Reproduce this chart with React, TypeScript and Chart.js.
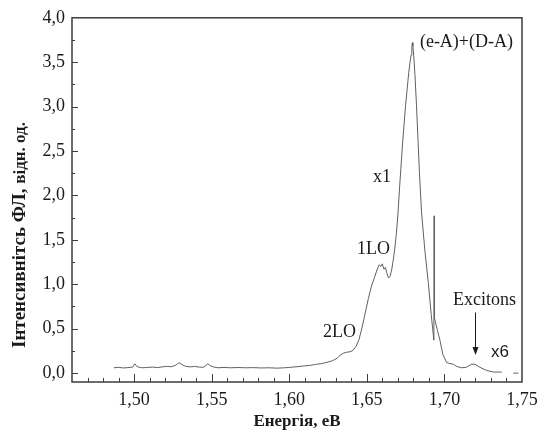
import React, { useEffect, useRef } from "react";
import { Chart, registerables } from "chart.js";

Chart.register(...registerables);

// Photoluminescence spectrum (energy, eV)
const energies: number[] = [
  1.487, 1.49, 1.493, 1.496, 1.499, 1.5005, 1.502, 1.505, 1.508, 1.512,
  1.515, 1.518, 1.521, 1.524, 1.527, 1.529, 1.531, 1.533, 1.536, 1.539,
  1.542, 1.545, 1.5475, 1.549, 1.551, 1.554, 1.558, 1.562, 1.567, 1.572,
  1.577, 1.582, 1.587, 1.592, 1.597, 1.601, 1.605, 1.609, 1.613, 1.617,
  1.621, 1.625, 1.628, 1.631, 1.633, 1.635, 1.637, 1.639, 1.641, 1.643,
  1.645, 1.647, 1.649, 1.651, 1.653, 1.655, 1.6565, 1.658, 1.659, 1.66,
  1.661, 1.662, 1.663, 1.664, 1.665, 1.666, 1.667, 1.668, 1.669, 1.67,
  1.6713, 1.673, 1.675, 1.677, 1.678, 1.6785, 1.679, 1.6793, 1.6797, 1.6802,
  1.681, 1.682, 1.683, 1.684, 1.6853, 1.6874, 1.6896, 1.6915, 1.6932, 1.6934,
  1.6936, 1.6955, 1.697, 1.699, 1.7014, 1.703, 1.7057, 1.708, 1.711, 1.714,
  1.7175, 1.7197, 1.7229, 1.7272, 1.7315, 1.7369, 1.74, 1.7444, 1.7476,
];

// PL intensity, arb. units
const intensities: (number | null)[] = [
  0.06, 0.065, 0.058, 0.062, 0.068, 0.105, 0.072, 0.06, 0.063, 0.068,
  0.062, 0.07, 0.075, 0.072, 0.09, 0.118, 0.095, 0.078, 0.07, 0.075,
  0.068, 0.066, 0.105, 0.085, 0.07, 0.06, 0.064, 0.06, 0.063, 0.06,
  0.062, 0.058, 0.06, 0.056, 0.06, 0.066, 0.072, 0.08, 0.086, 0.098,
  0.108, 0.125, 0.14, 0.17, 0.205, 0.225, 0.235, 0.24, 0.255, 0.3,
  0.38, 0.52, 0.68, 0.84, 0.98, 1.08, 1.16, 1.22, 1.2, 1.23,
  1.17, 1.19, 1.12, 1.07, 1.09, 1.16, 1.27, 1.4, 1.56, 1.78,
  2.14, 2.58, 3.02, 3.38, 3.52, 3.58, 3.66, 3.72, 3.68, 3.58,
  3.36, 3.02, 2.62, 2.22, 1.8, 1.38, 1.02, 0.66, 0.37, 1.77,
  0.62, 0.48, 0.38, 0.21, 0.12, 0.11, 0.1, 0.075, 0.06, 0.065,
  0.1, 0.1, 0.065, 0.03, 0.012, 0.012, null, 0.0, 0.0,
];

const xMin = 1.46;
const xMax = 1.75;
const yMin = -0.1;
const yMax = 4.0;

const xMajorStep = 0.05;
const xMinorStep = 0.01;
const yMajorStep = 0.5;
const yMinorStep = 0.25;

const xTitle = "Енергія, еВ";
const yTitleMain = "Інтенсивнітсь ФЛ, ";
const yTitleUnit = "відн. од.";

// annotation labels (anchored in data coordinates)
const noteTexts = ["(e-A)+(D-A)", "x1", "1LO", "2LO", "Excitons", "x6"];
const noteX = [1.6842, 1.6539, 1.6436, 1.6217, 1.7055, 1.73];
const noteY = [3.72, 2.2, 1.39, 0.455, 0.817, 0.237];
const arrowX = 1.7197;
const arrowFromY = 0.683;
const arrowToY = 0.204;

const SERIF = "'Liberation Serif', 'Times New Roman', serif";
const SANS = "'Liberation Sans', Arial, sans-serif";

function fmt(v: number, digits: number) {
  return v.toFixed(digits).replace(".", ",");
}

const decorPlugin = {
  id: "decor",
  afterDraw(chart: any) {
    const { ctx, chartArea: a, scales } = chart;
    const xs = scales.x;
    const ys = scales.y;
    ctx.save();
    // frame
    ctx.strokeStyle = "#3c3c3c";
    ctx.lineWidth = 1.5;
    ctx.strokeRect(a.left, a.top, a.right - a.left, a.bottom - a.top);

    // x ticks (inward)
    ctx.lineWidth = 1;
    const nx = Math.round((xMax - xMin) / xMinorStep);
    for (let i = 1; i < nx; i++) {
      const v = xMin + i * xMinorStep;
      const r = v / xMajorStep;
      const major = Math.abs(r - Math.round(r)) < 1e-6;
      const px = Math.round(xs.getPixelForValue(v)) + 0.5;
      ctx.beginPath();
      ctx.moveTo(px, a.bottom);
      ctx.lineTo(px, a.bottom - (major ? 8 : 4));
      ctx.stroke();
    }
    // y ticks (inward)
    const ny = Math.round(yMax / yMinorStep);
    for (let i = 0; i < ny; i++) {
      const v = i * yMinorStep;
      const r = v / yMajorStep;
      const major = Math.abs(r - Math.round(r)) < 1e-6;
      const py = Math.round(ys.getPixelForValue(v)) + 0.5;
      ctx.beginPath();
      ctx.moveTo(a.left, py);
      ctx.lineTo(a.left + (major ? 6 : 3), py);
      ctx.stroke();
    }

    // x title
    ctx.fillStyle = "#1a1a1a";
    ctx.font = `bold 17px ${SERIF}`;
    ctx.textAlign = "center";
    ctx.textBaseline = "middle";
    ctx.fillText(xTitle, (a.left + a.right) / 2, 422);

    // y title (mixed sizes)
    ctx.save();
    ctx.translate(25, 348);
    ctx.rotate(-Math.PI / 2);
    ctx.textAlign = "left";
    ctx.textBaseline = "alphabetic";
    ctx.font = `bold 19px ${SERIF}`;
    ctx.fillText(yTitleMain, 0, 0);
    const w = ctx.measureText(yTitleMain).width;
    ctx.font = `bold 17px ${SERIF}`;
    ctx.fillText(yTitleUnit, w, 0);
    ctx.restore();

    // annotations
    ctx.textAlign = "left";
    ctx.textBaseline = "middle";
    noteTexts.forEach((t, i) => {
      ctx.font = t === "x6" ? `17px ${SANS}` : `18px ${SERIF}`;
      ctx.fillText(t, xs.getPixelForValue(noteX[i]), ys.getPixelForValue(noteY[i]));
    });

    // arrow
    const ax = Math.round(xs.getPixelForValue(arrowX)) + 0.5;
    const ay1 = ys.getPixelForValue(arrowFromY);
    const ay2 = ys.getPixelForValue(arrowToY);
    ctx.strokeStyle = "#1a1a1a";
    ctx.lineWidth = 1;
    ctx.beginPath();
    ctx.moveTo(ax, ay1);
    ctx.lineTo(ax, ay2 - 6);
    ctx.stroke();
    ctx.beginPath();
    ctx.moveTo(ax, ay2);
    ctx.lineTo(ax - 3, ay2 - 8);
    ctx.lineTo(ax + 3, ay2 - 8);
    ctx.closePath();
    ctx.fill();

    ctx.restore();
  },
};

export default function App() {
  const ref = useRef<HTMLCanvasElement | null>(null);

  useEffect(() => {
    document.body.style.margin = "0";
    const canvas = ref.current;
    if (!canvas) return;
    const points = energies.map((x, i) => ({ x, y: intensities[i] }));
    const chart = new Chart(canvas, {
      type: "line",
      data: {
        datasets: [
          {
            data: points as any,
            borderColor: "#606060",
            borderWidth: 1,
            pointRadius: 0,
            tension: 0,
            spanGaps: false,
          },
        ],
      },
      options: {
        responsive: false,
        animation: false,
        devicePixelRatio: 1,
        layout: { padding: { top: 13, right: 26, left: 0, bottom: 0 } },
        plugins: { legend: { display: false }, tooltip: { enabled: false } },
        scales: {
          x: {
            type: "linear",
            min: xMin,
            max: xMax,
            grid: { display: false, drawTicks: false },
            border: { display: false },
            ticks: {
              stepSize: xMajorStep,
              includeBounds: false,
              autoSkip: false,
              maxRotation: 0,
              padding: 7,
              color: "#1a1a1a",
              font: { family: SERIF, size: 18 },
              callback: (v: any) => {
                const r = Number(v) / xMajorStep;
                return Math.abs(r - Math.round(r)) < 1e-6 ? fmt(Number(v), 2) : "";
              },
            },
            afterFit: (s: any) => {
              s.height = 56;
            },
          },
          y: {
            type: "linear",
            min: yMin,
            max: yMax,
            grid: { display: false, drawTicks: false },
            border: { display: false },
            ticks: {
              stepSize: yMajorStep,
              includeBounds: false,
              autoSkip: false,
              padding: 7,
              color: "#1a1a1a",
              font: { family: SERIF, size: 18 },
              callback: (v: any) => {
                const n = Number(v);
                const r = n / yMajorStep;
                if (n < -0.05 || Math.abs(r - Math.round(r)) > 1e-6) return "";
                return fmt(Math.abs(n) < 1e-9 ? 0 : n, 1);
              },
            },
            afterFit: (s: any) => {
              s.width = 72;
            },
          },
        },
      },
      plugins: [decorPlugin],
    });
    return () => chart.destroy();
  }, []);

  return (
    <div style={{ width: 548, height: 438, background: "#fff" }}>
      <canvas ref={ref} width={548} height={438} />
    </div>
  );
}
